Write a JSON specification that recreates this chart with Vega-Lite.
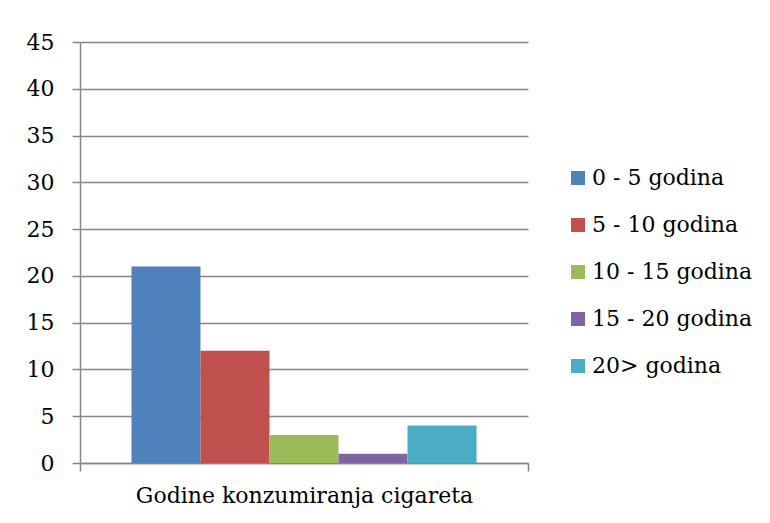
{
  "$schema": "https://vega.github.io/schema/vega-lite/v6.json",
  "width": 448,
  "height": 421,
  "autosize": {"type": "none"},
  "padding": {"left": 80, "top": 42, "right": 242, "bottom": 60},
  "background": "white",
  "data": {
    "values": [
      {"grupa": "Godine konzumiranja cigareta", "kategorija": "0 - 5 godina", "vrijednost": 21},
      {"grupa": "Godine konzumiranja cigareta", "kategorija": "5 - 10 godina", "vrijednost": 12},
      {"grupa": "Godine konzumiranja cigareta", "kategorija": "10 - 15 godina", "vrijednost": 3},
      {"grupa": "Godine konzumiranja cigareta", "kategorija": "15 - 20 godina", "vrijednost": 1},
      {"grupa": "Godine konzumiranja cigareta", "kategorija": "20> godina", "vrijednost": 4}
    ]
  },
  "mark": {"type": "bar"},
  "encoding": {
    "x": {
      "field": "grupa",
      "type": "nominal",
      "scale": {"paddingInner": 0, "paddingOuter": 0},
      "axis": {
        "title": null,
        "labelAngle": 0,
        "tickBand": "extent",
        "domainColor": "#868686",
        "tickColor": "#868686",
        "domainWidth": 1.5,
        "tickWidth": 1.5,
        "tickSize": 8,
        "labelPadding": 14,
        "labelFont": "DejaVu Serif",
        "labelFontSize": 22,
        "labelColor": "#000000",
        "labelLimit": 0
      }
    },
    "xOffset": {
      "field": "kategorija",
      "type": "nominal",
      "sort": ["0 - 5 godina", "5 - 10 godina", "10 - 15 godina", "15 - 20 godina", "20> godina"],
      "scale": {"paddingInner": 0, "paddingOuter": 0.746}
    },
    "y": {
      "field": "vrijednost",
      "type": "quantitative",
      "scale": {"domain": [0, 45], "nice": false},
      "axis": {
        "title": null,
        "values": [0, 5, 10, 15, 20, 25, 30, 35, 40, 45],
        "grid": true,
        "gridColor": "#868686",
        "gridWidth": 1.5,
        "domainColor": "#868686",
        "domainWidth": 1.5,
        "tickColor": "#868686",
        "tickWidth": 1.5,
        "tickSize": 8,
        "labelPadding": 18,
        "labelFont": "DejaVu Serif",
        "labelFontSize": 22,
        "labelColor": "#000000"
      }
    },
    "color": {
      "field": "kategorija",
      "type": "nominal",
      "scale": {
        "domain": ["0 - 5 godina", "5 - 10 godina", "10 - 15 godina", "15 - 20 godina", "20> godina"],
        "range": ["#4F81BD", "#C0504D", "#9BBB59", "#8064A2", "#4BACC6"]
      },
      "legend": {
        "title": null,
        "orient": "none",
        "legendX": 487,
        "legendY": 125,
        "symbolType": "square",
        "symbolSize": 196,
        "symbolStrokeWidth": 0,
        "labelFont": "DejaVu Serif",
        "labelFontSize": 22,
        "labelColor": "#000000",
        "labelOffset": 3,
        "rowPadding": 25,
        "labelLimit": 0
      }
    }
  },
  "config": {"view": {"stroke": null}}
}
